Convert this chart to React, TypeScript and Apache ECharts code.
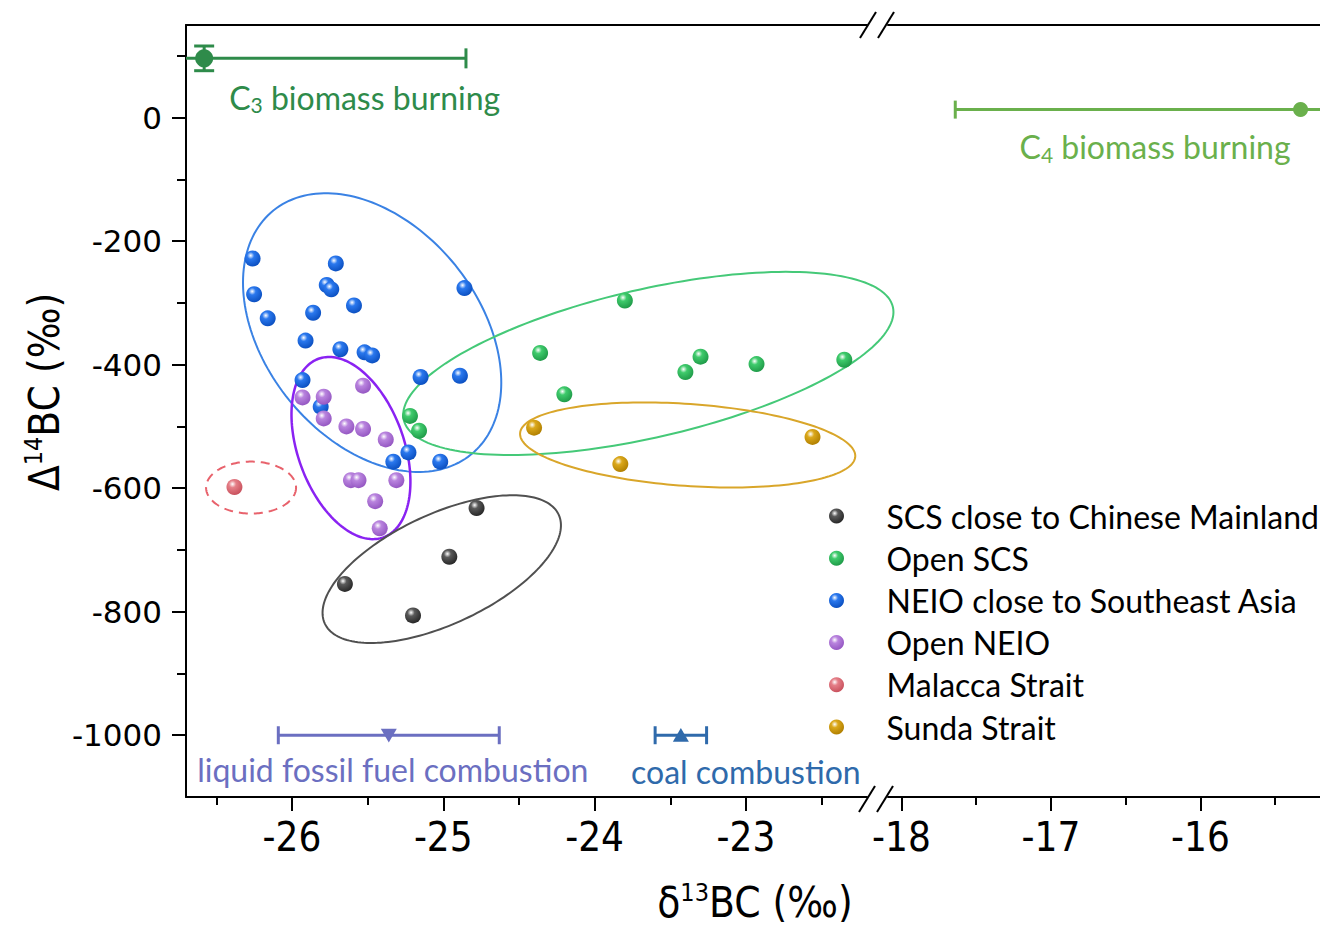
import React, { useEffect, useRef } from "react";
import * as echarts from "echarts";

// ---------------- data ----------------
const seriesNames = [
  "SCS close to Chinese Mainland",
  "Open SCS",
  "NEIO close to Southeast Asia",
  "Open NEIO",
  "Malacca Strait",
  "Sunda Strait",
];

// [δ13C, Δ14C]
const scsMainland = [[-24.78, -632], [-24.96, -711], [-25.65, -755], [-25.2, -806]];
const openSCS = [
  [-23.8, -296], [-24.36, -381], [-23.3, -387], [-23.4, -412], [-22.93, -399],
  [-22.35, -392], [-24.2, -448], [-25.22, -483], [-25.16, -507],
];
const neioSEA = [
  [-26.26, -228], [-25.71, -236], [-25.77, -271], [-25.74, -278], [-24.86, -276],
  [-26.25, -286], [-25.59, -304], [-25.86, -316], [-26.16, -325], [-25.91, -361],
  [-25.68, -375], [-25.52, -380], [-25.47, -385], [-25.15, -420], [-24.89, -418],
  [-25.93, -425], [-25.81, -468], [-25.23, -542], [-25.33, -557], [-25.02, -557],
];
const openNEIO = [
  [-25.53, -434], [-25.93, -453], [-25.79, -452], [-25.79, -487], [-25.64, -500],
  [-25.53, -504], [-25.38, -521], [-25.61, -587], [-25.56, -587], [-25.31, -587],
  [-25.45, -621], [-25.42, -665],
];
const malacca = [[-26.38, -598]];
const sunda = [[-24.4, -502], [-23.83, -561], [-22.56, -517]];

// end-member sources: [x, y, xErr, yErr]
const c3Burning = [-26.58, 96, 1.73, 20];
const c4Burning = [-15.33, 13, 2.31, 0];
const liquidFossil = [-25.36, -1000, 0.73, 0];
const coalCombustion = [-23.43, -1000, 0.17, 0];

// ellipse centres (data units), order: NEIO-SEA, Open NEIO, SCS mainland, Open SCS, Sunda, Malacca
const ellipseCenters = [
  [-25.47, -348], [-25.61, -535], [-25.01, -731], [-23.645, -398], [-23.385, -530], [-26.27, -599],
];

// axis ticks
const yTickLabels = [0, -200, -400, -600, -800, -1000];
const yMinorTicks = [100, -100, -300, -500, -700, -900];
const xLeftTicks = [-26, -25, -24, -23];
const xLeftMinor = [-26.5, -25.5, -24.5, -23.5, -22.5];
const xRightTicks = [-18, -17, -16];
const xRightMinor = [-17.5, -16.5, -15.5];

// ---------------- styles ----------------
const ballColors = [
  ["#5a5a5a", "#262626"],
  ["#3fcb6c", "#1f9a48"],
  ["#2a78ee", "#0b4fc0"],
  ["#b984de", "#9456c2"],
  ["#e57f88", "#c8505c"],
  ["#dba81a", "#b07f00"],
];

const ellipseStyles = [
  { rx: 157, ry: 107, rot: 51, color: "#3a82e4", width: 2, dash: null },
  { rx: 95, ry: 53, rot: 70, color: "#8a22f2", width: 2.5, dash: null },
  { rx: 129, ry: 55, rot: -25, color: "#505050", width: 2, dash: null },
  { rx: 251, ry: 74, rot: -13, color: "#45c978", width: 2, dash: null },
  { rx: 168, ry: 41, rot: 4, color: "#d9a62a", width: 2, dash: null },
  { rx: 45, ry: 26, rot: 0, color: "#e8626c", width: 2, dash: [9, 6] },
];

const NARROW = "'Liberation Sans Narrow', 'DejaVu Sans Condensed', 'Arial Narrow', sans-serif";
const LABEL_FONT = "Lato, 'Open Sans', sans-serif";
const LABEL_SIZE = 32;

function ball(base: string, dark: string) {
  return new echarts.graphic.RadialGradient(0.38, 0.32, 0.7, [
    { offset: 0, color: "#ffffff" },
    { offset: 0.32, color: base },
    { offset: 1, color: dark },
  ]);
}

function ellipseRender(params: any, api: any) {
  const s = ellipseStyles[params.dataIndex];
  const c = api.coord([api.value(0), api.value(1)]);
  const th = (s.rot * Math.PI) / 180;
  const pts: number[][] = [];
  for (let k = 0; k <= 180; k++) {
    const t = (k / 180) * Math.PI * 2;
    const ex = s.rx * Math.cos(t);
    const ey = s.ry * Math.sin(t);
    pts.push([c[0] + ex * Math.cos(th) - ey * Math.sin(th), c[1] + ex * Math.sin(th) + ey * Math.cos(th)]);
  }
  return {
    type: "polyline",
    shape: { points: pts },
    style: { fill: "none", stroke: s.color, lineWidth: s.width, lineDash: s.dash || undefined },
    silent: true,
  };
}

function makeErrorBar(
  data: number[],
  color: string,
  marker: string,
  markerSize: number,
  capH: number,
  label: any,
  xAxisIndex: number,
  yAxisIndex: number
) {
  return {
    type: "custom",
    xAxisIndex,
    yAxisIndex,
    silent: true,
    z: 5,
    data: [data],
    renderItem: (params: any, api: any) => {
      const x = api.value(0), y = api.value(1), xe = api.value(2), ye = api.value(3);
      const cs = params.coordSys;
      const c = api.coord([x, y]);
      const l = api.coord([x - xe, y]);
      const r = api.coord([x + xe, y]);
      const lx = Math.max(l[0], cs.x);
      const rx = Math.min(r[0], cs.x + cs.width);
      const ls = { stroke: color, lineWidth: 3 };
      const children: any[] = [
        { type: "line", shape: { x1: lx, y1: c[1], x2: rx, y2: c[1] }, style: ls },
      ];
      if (l[0] >= cs.x) children.push({ type: "line", shape: { x1: l[0], y1: c[1] - capH / 2, x2: l[0], y2: c[1] + capH / 2 }, style: ls });
      if (r[0] <= cs.x + cs.width) children.push({ type: "line", shape: { x1: r[0], y1: c[1] - capH / 2, x2: r[0], y2: c[1] + capH / 2 }, style: ls });
      if (ye > 0) {
        const t = api.coord([x, y + ye]);
        const b = api.coord([x, y - ye]);
        children.push({ type: "line", shape: { x1: c[0], y1: t[1], x2: c[0], y2: b[1] }, style: ls });
        children.push({ type: "line", shape: { x1: c[0] - capH / 2, y1: t[1], x2: c[0] + capH / 2, y2: t[1] }, style: ls });
        children.push({ type: "line", shape: { x1: c[0] - capH / 2, y1: b[1], x2: c[0] + capH / 2, y2: b[1] }, style: ls });
      }
      const m = markerSize / 2;
      if (marker === "circle") {
        children.push({ type: "circle", shape: { cx: c[0], cy: c[1], r: m }, style: { fill: color } });
      } else if (marker === "triangleDown") {
        children.push({ type: "polygon", shape: { points: [[c[0] - m, c[1] - m * 0.8], [c[0] + m, c[1] - m * 0.8], [c[0], c[1] + m * 0.9]] }, style: { fill: color } });
      } else {
        children.push({ type: "polygon", shape: { points: [[c[0] - m, c[1] + m * 0.8], [c[0] + m, c[1] + m * 0.8], [c[0], c[1] - m * 0.9]] }, style: { fill: color } });
      }
      children.push({
        type: "text",
        x: c[0] + label.dx,
        y: c[1] + label.dy,
        style: {
          text: label.text,
          rich: {
            n: { fontSize: LABEL_SIZE, fontFamily: LABEL_FONT, fill: color, lineHeight: 36 },
            sub: { fontSize: 21, fontFamily: LABEL_FONT, fill: color, lineHeight: 20, verticalAlign: "bottom" },
          },
          fill: color,
          fontSize: LABEL_SIZE,
          fontFamily: LABEL_FONT,
          align: label.align,
          verticalAlign: "middle",
        },
      });
      return { type: "group", children };
    },
  };
}

export default function App() {
  const ref = useRef<HTMLDivElement>(null);

  useEffect(() => {
    if (!ref.current) return;
    const chart = echarts.init(ref.current, undefined, { renderer: "svg" });

    const pointSets = [scsMainland, openSCS, neioSEA, openNEIO, malacca, sunda];
    // draw order: blue, green, black, red, orange, purple
    const drawOrder = [2, 1, 0, 4, 5, 3];
    const scatterSeries = drawOrder.map((i) => ({
      name: seriesNames[i],
      type: "scatter",
      xAxisIndex: 0,
      yAxisIndex: 0,
      symbol: "circle",
      symbolSize: 16,
      z: 3,
      data: pointSets[i],
      itemStyle: { color: ball(ballColors[i][0], ballColors[i][1]), opacity: 1 },
    }));

    const yMain = {
      type: "value",
      gridIndex: 0,
      min: -1100,
      max: 150,
      position: "left",
      axisLine: { show: true, onZero: false, lineStyle: { color: "#000", width: 2 } },
      axisTick: { show: true, inside: false, length: 14, customValues: yTickLabels, lineStyle: { color: "#000", width: 2 } },
      axisLabel: {
        show: true,
        customValues: yTickLabels,
        margin: 24,
        fontFamily: "'DejaVu Sans', Verdana, sans-serif",
        fontSize: 31,
        color: "#000",
        formatter: (v: number) => String(v),
      },
      splitLine: { show: false },
    };
    const yMinor = {
      type: "value",
      gridIndex: 0,
      min: -1100,
      max: 150,
      position: "left",
      axisLine: { show: false, onZero: false },
      axisTick: { show: true, inside: false, length: 9, customValues: yMinorTicks, lineStyle: { color: "#000", width: 2 } },
      axisLabel: { show: false },
      splitLine: { show: false },
    };
    const yRight = { type: "value", gridIndex: 1, min: -1100, max: 150, show: false, splitLine: { show: false } };

    const xAxisPair = (grid: number, min: number, max: number, major: number[], minor: number[]) => [
      {
        type: "value",
        gridIndex: grid,
        min,
        max,
        position: "bottom",
        axisLine: { show: true, onZero: false, lineStyle: { color: "#000", width: 2 } },
        axisTick: { show: true, inside: false, length: 14, customValues: major, lineStyle: { color: "#000", width: 2 } },
        axisLabel: {
          show: true,
          customValues: major,
          margin: 20,
          fontFamily: NARROW,
          fontSize: 40,
          color: "#000",
          formatter: (v: number) => String(v),
        },
        splitLine: { show: false },
      },
      {
        type: "value",
        gridIndex: grid,
        min,
        max,
        position: "bottom",
        axisLine: { show: false, onZero: false },
        axisTick: { show: true, inside: false, length: 8, customValues: minor, lineStyle: { color: "#000", width: 2 } },
        axisLabel: { show: false },
        splitLine: { show: false },
      },
      {
        type: "value",
        gridIndex: grid,
        min,
        max,
        position: "top",
        axisLine: { show: true, onZero: false, lineStyle: { color: "#000", width: 2 } },
        axisTick: { show: false },
        axisLabel: { show: false },
        splitLine: { show: false },
      },
    ];

    const breakLine = (x1: number, y1: number, x2: number, y2: number) => ({
      type: "line",
      shape: { x1, y1, x2, y2 },
      style: { stroke: "#000", lineWidth: 2 },
    });

    const option: any = {
      animation: false,
      backgroundColor: "#fff",
      grid: [
        { left: 186, top: 25, width: 681, height: 772, containLabel: false },
        { left: 888, top: 25, width: 437.4, height: 772, containLabel: false },
      ],
      xAxis: [
        ...xAxisPair(0, -26.7, -22.2, xLeftTicks, xLeftMinor),
        ...xAxisPair(1, -18.09, -15.2, xRightTicks, xRightMinor),
      ],
      yAxis: [yMain, yMinor, yRight],
      legend: {
        data: seriesNames,
        orient: "vertical",
        left: 824,
        top: 495,
        itemWidth: 52,
        itemHeight: 15,
        itemGap: 10.2,
        icon: "circle",
        selectedMode: false,
        textStyle: { fontFamily: LABEL_FONT, fontSize: 32, lineHeight: 30, color: "#000", padding: [0, 0, 0, 19] },
      },
      graphic: [
        breakLine(860, 38, 876, 12),
        breakLine(878, 38, 894, 12),
        breakLine(859, 812, 875, 786),
        breakLine(877, 812, 893, 786),
        {
          type: "text",
          x: 755,
          y: 902,
          style: {
            text: "{n|δ}{sup|13}{n|BC (‰)}",
            rich: {
              n: { fontSize: 42, fontFamily: NARROW, fill: "#000", lineHeight: 44 },
              sup: { fontSize: 25, fontFamily: NARROW, fill: "#000", lineHeight: 28, verticalAlign: "top" },
            },
            align: "center",
            verticalAlign: "middle",
            textAlign: "center",
            textVerticalAlign: "middle",
          },
        },
        {
          type: "text",
          x: 44,
          y: 392,
          rotation: Math.PI / 2,
          style: {
            text: "{n|Δ}{sup|14}{n|BC (‰)}",
            rich: {
              n: { fontSize: 42, fontFamily: NARROW, fill: "#000", lineHeight: 46 },
              sup: { fontSize: 25, fontFamily: NARROW, fill: "#000", lineHeight: 28, verticalAlign: "top" },
            },
            align: "center",
            verticalAlign: "middle",
            textAlign: "center",
            textVerticalAlign: "middle",
          },
        },
      ],
      series: [
        {
          type: "custom",
          xAxisIndex: 0,
          yAxisIndex: 0,
          silent: true,
          z: 2,
          data: ellipseCenters,
          renderItem: ellipseRender,
        },
        ...scatterSeries,
        makeErrorBar(c3Burning, "#2e8b4a", "circle", 18, 20,
          { text: "{n|C}{sub|3}{n| biomass burning}", dx: 25, dy: 39, align: "left" }, 0, 0),
        makeErrorBar(c4Burning, "#6ab04c", "circle", 15, 18,
          { text: "{n|C}{sub|4}{n| biomass burning}", dx: -10, dy: 37, align: "right" }, 3, 2),
        makeErrorBar(liquidFossil, "#6b6fc1", "triangleDown", 16, 18,
          { text: "{n|liquid fossil fuel combustion}", dx: 4, dy: 34, align: "center" }, 0, 0),
        makeErrorBar(coalCombustion, "#2f6aab", "triangleUp", 16, 18,
          { text: "{n|coal combustion}", dx: 65, dy: 36, align: "center" }, 0, 0),
      ],
    };

    chart.setOption(option);
    return () => chart.dispose();
  }, []);

  return <div ref={ref} style={{ position: "absolute", left: 0, top: 0, width: 1320, height: 926 }} />;
}
